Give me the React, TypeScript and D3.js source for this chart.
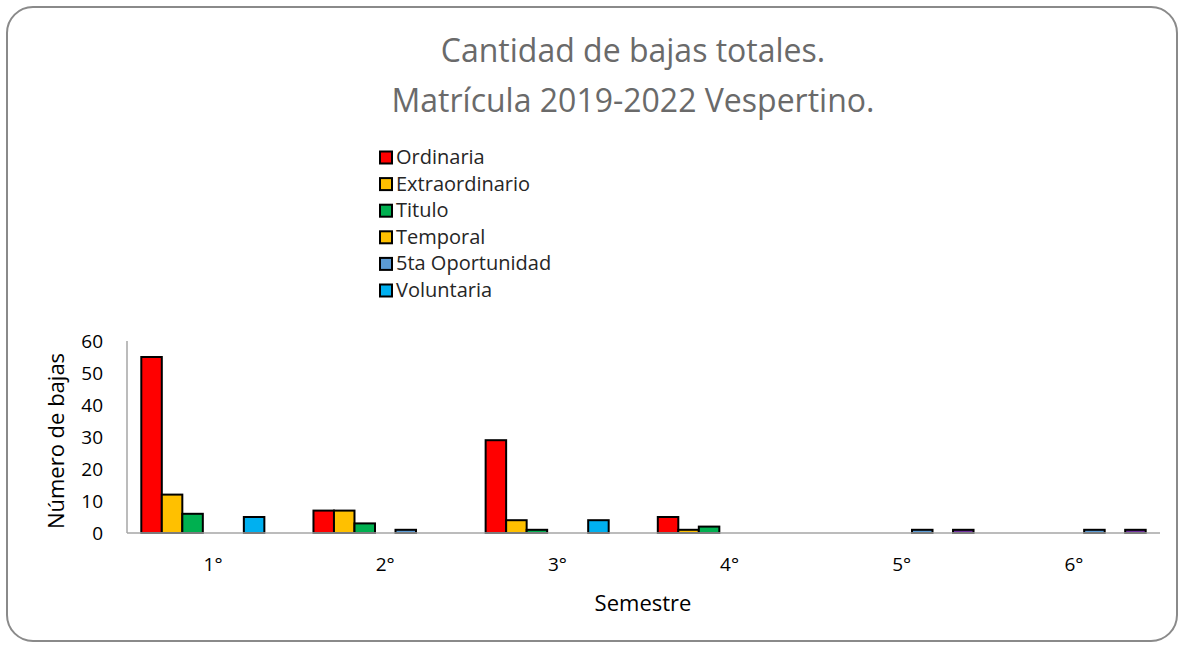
import React from 'react';
import * as d3 from 'd3';

// data
const semesters = ['1°', '2°', '3°', '4°', '5°', '6°'];
const seriesNames = ['Ordinaria', 'Extraordinario', 'Titulo', 'Temporal', '5ta Oportunidad', 'Voluntaria', 'Otra'];
const seriesColors = ['#FF0000', '#FFC000', '#00B050', '#FFC000', '#5B9BD5', '#00B0F0', '#7030A0'];
const legendNames = ['Ordinaria', 'Extraordinario', 'Titulo', 'Temporal', '5ta Oportunidad', 'Voluntaria'];
const ordinaria = [55, 7, 29, 5, 0, 0];
const extraordinario = [12, 7, 4, 1, 0, 0];
const titulo = [6, 3, 1, 2, 0, 0];
const temporal = [0, 0, 0, 0, 0, 0];
const quintaOportunidad = [0, 1, 0, 0, 1, 1];
const voluntaria = [5, 0, 4, 0, 0, 0];
const otra = [0, 0, 0, 0, 1, 1];
const yTicks = [0, 10, 20, 30, 40, 50, 60];

const seriesValues = [ordinaria, extraordinario, titulo, temporal, quintaOportunidad, voluntaria, otra];

const W = 1184, H = 648;
const plot = { left: 127, right: 1160, top: 341, bottom: 533 };
const font = '"Open Sans", "Noto Sans", sans-serif';

export default function App() {
    const x0 = d3.scaleBand().domain(semesters).range([plot.left, plot.right]).paddingInner(0).paddingOuter(0);
    const gap = 14.3;
    const x1 = d3.scaleBand().domain(seriesNames).range([gap, x0.bandwidth() - gap]).padding(0);
    const y = d3.scaleLinear().domain([0, 60]).range([plot.bottom, plot.top]);

    return (
        <svg width={W} height={H} style={{ position: 'absolute', left: 0, top: 0 }}>
            <rect x={7} y={7} width={W - 14} height={H - 14} rx={26} ry={26} fill="#fff" stroke="#8a8a8a" strokeWidth={2} />

            <g fontFamily={font} fill="#6a6a6a" fontSize={32} textAnchor="middle">
                <text x={633} y={62}>Cantidad de bajas totales.</text>
                <text x={633} y={112}>Matrícula 2019-2022 Vespertino.</text>
            </g>

            {/* legend */}
            <g fontFamily={font} fontSize={20} fill="#262626">
                {legendNames.map((name, i) => {
                    const ly = 157.5 + i * 26.6;
                    return (
                        <g key={name}>
                            <rect x={380} y={ly - 6} width={12} height={12} fill={seriesColors[i]} stroke="#000" strokeWidth={2} />
                            <text x={396} y={ly + 6.5}>{name}</text>
                        </g>
                    );
                })}
            </g>

            {/* bars */}
            {semesters.map((s, ci) => (
                <g key={s} transform={`translate(${x0(s)},0)`}>
                    {seriesNames.map((name, si) => {
                        const v = seriesValues[si][ci];
                        if (!v) return null;
                        return (
                            <rect key={name} x={x1(name)} y={y(v)} width={x1.bandwidth()} height={y(0) - y(v)}
                                  fill={seriesColors[si]} stroke="#000" strokeWidth={2} />
                        );
                    })}
                </g>
            ))}

            {/* axes */}
            <line x1={plot.left} x2={plot.left} y1={plot.top} y2={plot.bottom} stroke="#A6A6A6" strokeWidth={1.5} />
            <line x1={plot.left} x2={plot.right} y1={plot.bottom} y2={plot.bottom} stroke="#A6A6A6" strokeWidth={1.5} />
            <g fontFamily={font} fontSize={19} fill="#000">
                {yTicks.map(t => (
                    <text key={t} x={103} y={y(t) + 7} textAnchor="end">{t}</text>
                ))}
                {semesters.map(s => (
                    <text key={s} x={(x0(s) as number) + x0.bandwidth() / 2} y={571} textAnchor="middle">{s}</text>
                ))}
                <text x={643} y={611} textAnchor="middle" fontSize={22}>Semestre</text>
                <text transform={`translate(64,441) rotate(-90)`} textAnchor="middle" fontSize={22}>Número de bajas</text>
            </g>
        </svg>
    );
}
